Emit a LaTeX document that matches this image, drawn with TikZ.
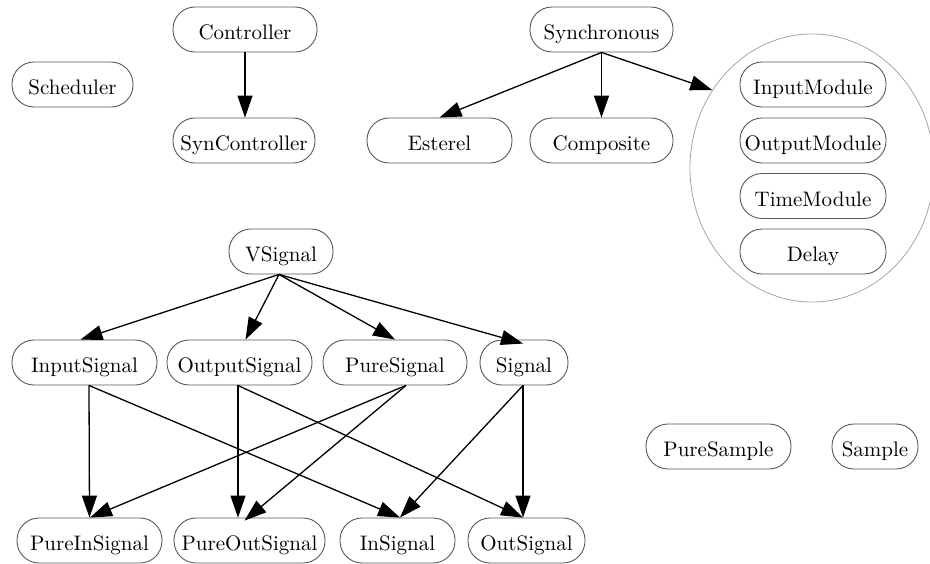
\documentclass[tikz,border=0pt]{standalone}
\usepackage{fontspec}
\newfontfamily\classfont{lmroman10-regular.otf}
\usetikzlibrary{arrows.meta,shapes.geometric}
\begin{document}
\begin{tikzpicture}[x=1pt,y=-1pt,
  cls/.style={draw=black!65, line width=0.9pt, rounded corners=22pt,
    minimum height=45pt, inner sep=0pt, text height=20.5pt, text depth=0pt,
    font=\classfont\fontsize{21pt}{25pt}\selectfont},
  edge/.style={line width=1.3pt, draw=black,
    -{Triangle[length=22pt,width=15pt]}, shorten >=0pt},
  group/.style={draw=black!35, line width=0.8pt, ellipse, inner sep=0pt}]
\useasboundingbox (0,0) rectangle (930,563);

% top-left classes
\node[cls, minimum width=121pt] (Scheduler) at (72.5,84.5) {Scheduler};
\node[cls, minimum width=144pt] (Controller) at (245,29.5) {Controller};
\node[cls, minimum width=142pt] (SynController) at (244,140.5) {SynController};

% synchronous part
\node[cls, minimum width=143pt] (Synchronous) at (601.5,29.5) {Synchronous};
\node[cls, minimum width=145pt] (Esterel) at (439.5,140.5) {Esterel};
\node[cls, minimum width=143pt] (Composite) at (601.5,140.5) {Composite};

% module group
\node[group, minimum width=244pt, minimum height=268pt] (modules) at (812,168) {};
\node[cls, minimum width=146pt] (InputModule) at (813,84.5) {InputModule};
\node[cls, minimum width=146pt] (OutputModule) at (813,140.5) {OutputModule};
\node[cls, minimum width=146pt] (TimeModule) at (813,196) {TimeModule};
\node[cls, minimum width=146pt] (Delay) at (813,251.5) {Delay};

% signal hierarchy
\node[cls, minimum width=104pt] (VSignal) at (281,251.5) {VSignal};
\node[cls, minimum width=145pt] (InputSignal) at (84.5,362.5) {InputSignal};
\node[cls, minimum width=145pt] (OutputSignal) at (239.5,362.5) {OutputSignal};
\node[cls, minimum width=144pt] (PureSignal) at (395,362.5) {PureSignal};
\node[cls, minimum width=88pt] (Signal) at (524,362.5) {Signal};

\node[cls, minimum width=145pt] (PureInSignal) at (89.5,540.5) {PureInSignal};
\node[cls, minimum width=151pt] (PureOutSignal) at (249.5,540.5) {PureOutSignal};
\node[cls, minimum width=115pt] (InSignal) at (397.5,540.5) {InSignal};
\node[cls, minimum width=117pt] (OutSignal) at (526.5,540.5) {OutSignal};

% samples
\node[cls, minimum width=145pt] (PureSample) at (718.5,446.5) {PureSample};
\node[cls, minimum width=86pt] (Sample) at (875,446.5) {Sample};

% inheritance edges
\draw[edge] (Controller.south) -- (SynController.north -| Controller.south);

\draw[edge] (Synchronous.south) -- (Esterel.north);
\draw[edge] (Synchronous.south) -- (Composite.north);
\draw[edge] (Synchronous.south) -- (modules.142);

\draw[edge] ([xshift=-2pt]VSignal.south) -- ([xshift=-4pt]InputSignal.north);
\draw[edge] ([xshift=-2pt]VSignal.south) -- ([xshift=6pt]OutputSignal.north);
\draw[edge] ([xshift=-2pt]VSignal.south) -- (PureSignal.north);
\draw[edge] ([xshift=-2pt]VSignal.south) -- ([xshift=-1pt,yshift=-4pt]Signal.north);

\draw[edge] ([xshift=4.5pt]InputSignal.south) -- (PureInSignal.north);
\draw[edge] ([xshift=4.5pt]InputSignal.south) -- ([xshift=2.5pt]InSignal.north);
\draw[edge] ([xshift=-1.5pt]OutputSignal.south) -- ([xshift=-11.5pt]PureOutSignal.north);
\draw[edge] ([xshift=-1.5pt]OutputSignal.south) -- ([xshift=-3.5pt]OutSignal.north);
\draw[edge] ([xshift=11pt]PureSignal.south) -- ([xshift=0.5pt]PureInSignal.north);
\draw[edge] ([xshift=11pt]PureSignal.south) -- ([xshift=-5pt,yshift=-3pt]PureOutSignal.north);
\draw[edge] ([xshift=-1pt]Signal.south) -- ([xshift=2.5pt]InSignal.north);
\draw[edge] ([xshift=-1pt]Signal.south) -- ([xshift=-3.5pt]OutSignal.north);
\end{tikzpicture}
\end{document}
